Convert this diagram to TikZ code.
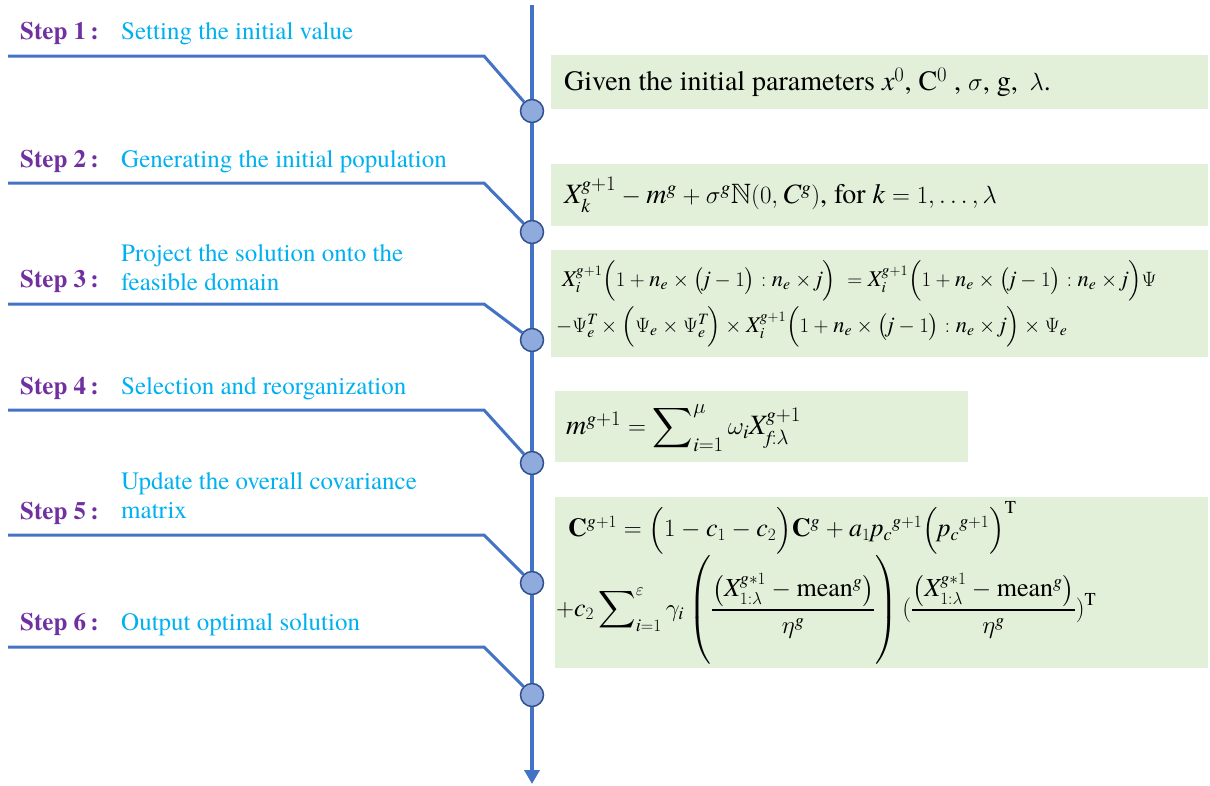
\documentclass[tikz,border=0pt]{standalone}
\usepackage{amsmath}
\usepackage{amssymb}
\usepackage{fontspec}
\setmainfont{texgyretermes}[Extension=.otf, UprightFont=*-regular, BoldFont=*-bold, ItalicFont=*-italic, BoldItalicFont=*-bolditalic]
\newfontfamily\termesfam{texgyretermes}[NFSSFamily=termes, Extension=.otf, UprightFont=*-regular, BoldFont=*-bold, ItalicFont=*-italic, BoldItalicFont=*-bolditalic]
\DeclareSymbolFont{tletters}{TU}{termes}{m}{it}
\DeclareSymbolFont{tdigits}{TU}{termes}{m}{n}
\def\mapletters#1{\ifx#1\relax\else\Umathcode`#1="7 \symtletters `#1\relax\expandafter\mapletters\fi}
\mapletters abcdefghijklmnopqrstuvwxyzABCDEFGHIJKLMNOPQRSTUVWXYZ\relax
\def\mapdigits#1{\ifx#1\relax\else\Umathcode`#1="7 \symtdigits `#1\relax\expandafter\mapdigits\fi}
\mapdigits 0123456789\relax
\usetikzlibrary{arrows.meta}
\definecolor{lineblue}{HTML}{4472C4}
\definecolor{circfill}{HTML}{8FAADC}
\definecolor{circdraw}{HTML}{2F528F}
\definecolor{steppurple}{HTML}{7030A0}
\definecolor{stepcyan}{HTML}{00B0F0}
\definecolor{boxgreen}{HTML}{E2F0D9}
\tikzset{
  mainline/.style={draw=lineblue, line width=3.5pt},
  branch/.style={draw=lineblue, line width=3pt},
  stepdot/.style={circle, draw=circdraw, fill=circfill, line width=1.5pt, minimum size=23pt, inner sep=0pt},
  steplab/.style={text=steppurple, font=\fontsize{25}{30}\selectfont\bfseries, inner sep=0pt},
  stepdesc/.style={text=stepcyan, font=\fontsize{25}{29}\selectfont, inner sep=0pt, align=left},
  gbox/.style={fill=boxgreen, draw=none, anchor=north west, inner sep=0pt},
  ftext/.style={inner sep=0pt, anchor=west, text=black},
}
\newcommand{\bigstrut}{\rule[-1.8em]{0pt}{4.05em}}
\begin{document}
\begin{tikzpicture}[x=1pt,y=-1pt]
\useasboundingbox (0,0) rectangle (1210,785);
% green boxes
\node[gbox, minimum width=657pt, minimum height=54pt] (b1) at (551,55) {};
\node[gbox, minimum width=657pt, minimum height=62pt] (b2) at (551,164) {};
\node[gbox, minimum width=657pt, minimum height=107pt] (b3) at (551,250) {};
\node[gbox, minimum width=413pt, minimum height=71pt] (b4) at (555,391) {};
\node[gbox, minimum width=653pt, minimum height=171pt] (b5) at (555,497) {};
% main axis
\coordinate (top) at (532,5);
\coordinate (bottom) at (532,784);
\node[stepdot] (c1) at (532,111) {};
\node[stepdot] (c2) at (532,232) {};
\node[stepdot] (c3) at (532,340) {};
\node[stepdot] (c4) at (532,463) {};
\node[stepdot] (c5) at (532,583) {};
\node[stepdot] (c6) at (532,695) {};
\draw[mainline] (top) -- (c1);
\draw[mainline] (c1) -- (c2);
\draw[mainline] (c2) -- (c3);
\draw[mainline] (c3) -- (c4);
\draw[mainline] (c4) -- (c5);
\draw[mainline] (c5) -- (c6);
\draw[mainline, -{Triangle[width=15pt,length=14pt]}] (c6) -- (bottom);
% branches
\foreach \i/\y in {1/56,2/183,3/304,4/410,5/535,6/647}{
  \coordinate (l\i) at (8,\y);
  \coordinate (k\i) at (484,\y);
  \draw[branch, line join=miter] (l\i) -- (k\i) -- (c\i);
}
% step labels
\node[steplab, anchor=base west] (s1) at (20,39) {Step 1\,:};
\node[stepdesc, anchor=base west] (d1) at (121,39) {Setting the initial value};
\node[steplab, anchor=base west] (s2) at (20,167) {Step 2\,:};
\node[stepdesc, anchor=base west] (d2) at (121,167) {Generating the initial population};
\node[steplab, anchor=base west] (s3) at (20,287) {Step 3\,:};
\node[stepdesc, anchor=west] (d3) at (121,268) {Project the solution onto the\\feasible domain};
\node[steplab, anchor=base west] (s4) at (20,394) {Step 4\,:};
\node[stepdesc, anchor=base west] (d4) at (121,394) {Selection and reorganization};
\node[steplab, anchor=base west] (s5) at (20,519) {Step 5\,:};
\node[stepdesc, anchor=west] (d5) at (121,496) {Update the overall covariance\\matrix};
\node[steplab, anchor=base west] (s6) at (20,630) {Step 6\,:};
\node[stepdesc, anchor=base west] (d6) at (121,630) {Output optimal solution};
% formulas
\node[ftext, font=\fontsize{28}{32}\selectfont] (f1) at (564,82)
  {Given the initial parameters $x^0$, C$^0$ , $\sigma$, g,\, $\lambda$.};
\node[ftext, font=\fontsize{28}{32}\selectfont] (f2) at (564,195)
  {$X_k^{g+1}-m^g+\sigma^g\mathbb{N}(0,C^g)$, for $k=1,\ldots,\lambda$};
\node[ftext, font=\fontsize{22.5}{26}\selectfont] (f3a) at (562,281)
  {$X_i^{g+1}\Bigl(1+n_e\times\bigl(j-1\bigr):n_e\times j\Bigr)\;=X_i^{g+1}\Bigl(1+n_e\times\bigl(j-1\bigr):n_e\times j\Bigr)\Psi$};
\node[ftext, font=\fontsize{22.5}{26}\selectfont] (f3b) at (556,327)
  {$-\Psi_e^T\times\Bigl(\Psi_e\times\Psi_e^T\Bigr)\times X_i^{g+1}\Bigl(1+n_e\times\bigl(j-1\bigr):n_e\times j\Bigr)\times\Psi_e$};
\node[ftext, font=\fontsize{28}{32}\selectfont] (f4) at (566,428)
  {$m^{g+1}=\displaystyle\sum\nolimits_{i=1}^{\mu}\omega_i X_{f:\lambda}^{g+1}$};
\node[ftext, font=\fontsize{26}{30}\selectfont] (f5a) at (568,528)
  {$\mathbf{C}^{g+1}=\Bigl(1-c_1-c_2\Bigr)\mathbf{C}^g+a_1 p_c{}^{g+1}\Bigl(p_c{}^{g+1}\Bigr)^{\mathrm{T}}$};
\node[ftext, font=\fontsize{26}{30}\selectfont] (f5b) at (556,610)
  {$+c_2\displaystyle\sum\nolimits_{i=1}^{\varepsilon}\gamma_i\left(\dfrac{\left(X_{1:\lambda}^{g*1}-\mathrm{mean}^g\right)}{\eta^g}\bigstrut\right)(\dfrac{\left(X_{1:\lambda}^{g*1}-\mathrm{mean}^g\right)}{\eta^g})^{\mathrm{T}}$};
\end{tikzpicture}
\end{document}
